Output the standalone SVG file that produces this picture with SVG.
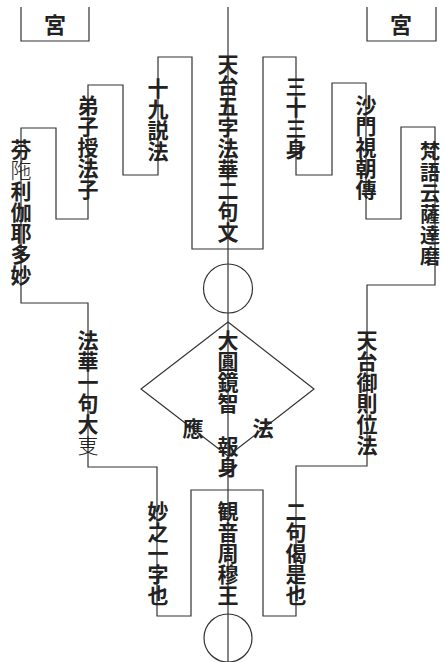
<svg xmlns="http://www.w3.org/2000/svg" width="445" height="662" viewBox="0 0 445 662">
<style>
.ln{fill:none;stroke:#333;stroke-width:1.2}
.v{font-family:"Noto Sans CJK JP","Noto Sans CJK SC",sans-serif;font-size:21px;font-weight:bold;fill:#222;writing-mode:vertical-rl;letter-spacing:0}
.h{font-family:"Noto Sans CJK JP","Noto Sans CJK SC",sans-serif;font-size:21px;font-weight:bold;fill:#222;text-anchor:middle;dominant-baseline:central}
.thin{font-weight:200}
</style>
<rect width="445" height="662" fill="#fff"/>
<g id="connectors">
<polyline class="ln" points="21,7 21,41 89,41 89,7"/>
<polyline class="ln" points="367,7 367,41 436,41 436,7"/>
<polygon class="ln" points="192,249 192,57 158,57 158,175 123,175 123,85 88,85 88,219 56,219 56,128 21,128 21,303 88,303 88,467 157,467 157,616 191,616 191,490 263,490 263,616 296,616 296,466 367,466 367,285 435,285 435,127 401,127 401,219 366,219 366,83 332,83 332,175 296,175 296,57 263,57 263,249"/>
<line class="ln" x1="228" y1="7" x2="228" y2="662"/>
<circle class="ln" cx="228" cy="288.5" r="24.5"/>
<polygon class="ln" points="228,322 314,389 228,456 141,389"/>
<circle class="ln" cx="228" cy="638" r="24"/>
</g>
<g id="palace-left"><text class="h" x="55" y="23" style="font-size:22px">宮</text></g>
<g id="palace-right"><text class="h" x="401" y="23" style="font-size:22px">宮</text></g>
<g id="n-center"><text class="v" x="228" y="54">天台五字法華二句文</text></g>
<g id="n-19"><text class="v" x="158" y="78">十九説法</text></g>
<g id="n-dishi"><text class="v" x="88" y="95">弟子授法子</text></g>
<g id="n-fun"><text class="v" x="21" y="139">芬<tspan class="thin">陁</tspan>利伽耶多妙</text></g>
<g id="n-33"><text class="v" x="296" y="76">三十三身</text></g>
<g id="n-shamon"><text class="v" x="366" y="95">沙門視朝傳</text></g>
<g id="n-bongo"><text class="v" x="430" y="141" style="font-size:20px;letter-spacing:1px">梵語云薩達磨</text></g>
<g id="n-daien"><text class="v" x="228" y="330">大圓鏡智</text></g>
<g id="n-hoshin"><text class="v" x="228" y="436">報身</text></g>
<g id="n-o"><text class="h" x="193" y="427">應</text></g>
<g id="n-ho"><text class="h" x="263" y="427">法</text></g>
<g id="n-hokke"><text class="v" x="88" y="330">法華一句大<tspan class="thin">叓</tspan></text></g>
<g id="n-tendai"><text class="v" x="367" y="330">天台御則位法</text></g>
<g id="n-myo"><text class="v" x="158" y="501">妙之一字也</text></g>
<g id="n-kannon"><text class="v" x="228" y="501">観音周穆王</text></g>
<g id="n-niku"><text class="v" x="296" y="501">二句偈是也</text></g>
</svg>
